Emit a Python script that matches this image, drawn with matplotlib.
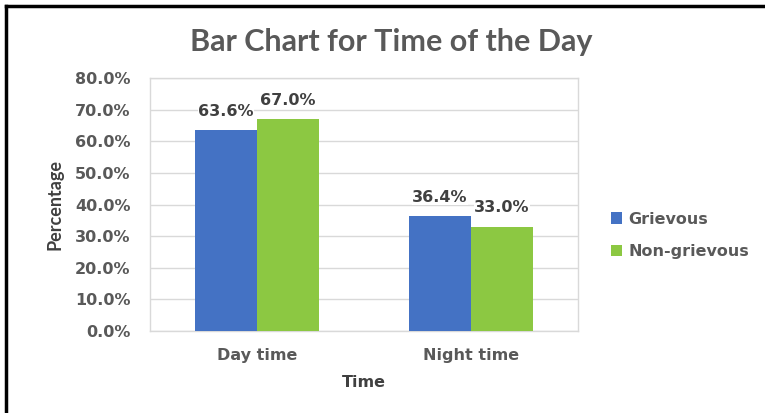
import matplotlib
matplotlib.use("Agg")
import matplotlib.pyplot as plt
from matplotlib.lines import Line2D
from matplotlib.patches import Patch
import numpy as np

categories = ["Day time", "Night time"]
series_names = ["Grievous", "Non-grievous"]
grievous = [63.6, 36.4]
non_grievous = [67.0, 33.0]
y_ticks = [0, 10, 20, 30, 40, 50, 60, 70, 80]

blue = "#4472C4"
green = "#8CC842"
grey_text = "#595959"
dark_text = "#404040"

fig = plt.figure(figsize=(7.65, 4.13), dpi=100)
ax = fig.add_axes([0.196, 0.1985, 0.5596, 0.6125])

x = np.arange(len(categories))
w = 0.29
b1 = ax.bar(x - w / 2, grievous, width=w, color=blue, zorder=3)
b2 = ax.bar(x + w / 2, non_grievous, width=w, color=green, zorder=3)

label_font = dict(family="DejaVu Sans", weight="bold", size=11.5, color=dark_text)
for bars, vals in ((b1, grievous), (b2, non_grievous)):
    for rect, v in zip(bars, vals):
        ax.text(rect.get_x() + rect.get_width() / 2, v + 3.6, f"{v:.1f}%",
                ha="center", va="bottom", zorder=4,
                bbox=dict(facecolor="white", edgecolor="none", pad=0.5),
                **label_font)

ax.set_xlim(-0.5, 1.5)
ax.set_ylim(0, 80)
ax.set_yticks(y_ticks)
ax.set_yticklabels([f"{t:.1f}%" for t in y_ticks])
ax.set_xticks(x)
ax.set_xticklabels(categories)
ax.tick_params(axis="both", length=0, labelsize=11.5, labelcolor=grey_text)
for lbl in ax.get_xticklabels() + ax.get_yticklabels():
    lbl.set_fontweight("bold")
    lbl.set_family("DejaVu Sans")
ax.tick_params(axis="y", pad=14)
ax.tick_params(axis="x", pad=12)

ax.grid(axis="y", color="#D9D9D9", linewidth=1, zorder=0)
for s in ax.spines.values():
    s.set_color("#D9D9D9")
    s.set_linewidth(1)

ax.set_xlabel("Time", family="DejaVu Sans", weight="bold", size=11.5,
              color=dark_text, labelpad=9)
ax.set_ylabel("Percentage", family="Lato", weight="bold", size=13,
              color=dark_text, labelpad=8)

fig.text(0.512, 0.898, "Bar Chart for Time of the Day", ha="center", va="center",
         family="Lato", weight="bold", size=22, color=grey_text)

handles = [Patch(facecolor=blue), Patch(facecolor=green)]
leg = fig.legend(handles, series_names, loc="center left",
                 bbox_to_anchor=(0.78, 0.43), frameon=False,
                 prop=dict(family="DejaVu Sans", weight="bold", size=11.5),
                 handlelength=0.7, handleheight=0.7, handletextpad=0.4,
                 labelspacing=1.1)
for t in leg.get_texts():
    t.set_color(grey_text)

# outer frame along the left and top edges
fig.add_artist(Line2D([0.008, 0.008], [0, 0.986], color="black", linewidth=2.5,
                      transform=fig.transFigure))
fig.add_artist(Line2D([0.008, 1.0], [0.986, 0.986], color="black", linewidth=2.5,
                      transform=fig.transFigure))

fig.savefig("out.png", dpi=100)
